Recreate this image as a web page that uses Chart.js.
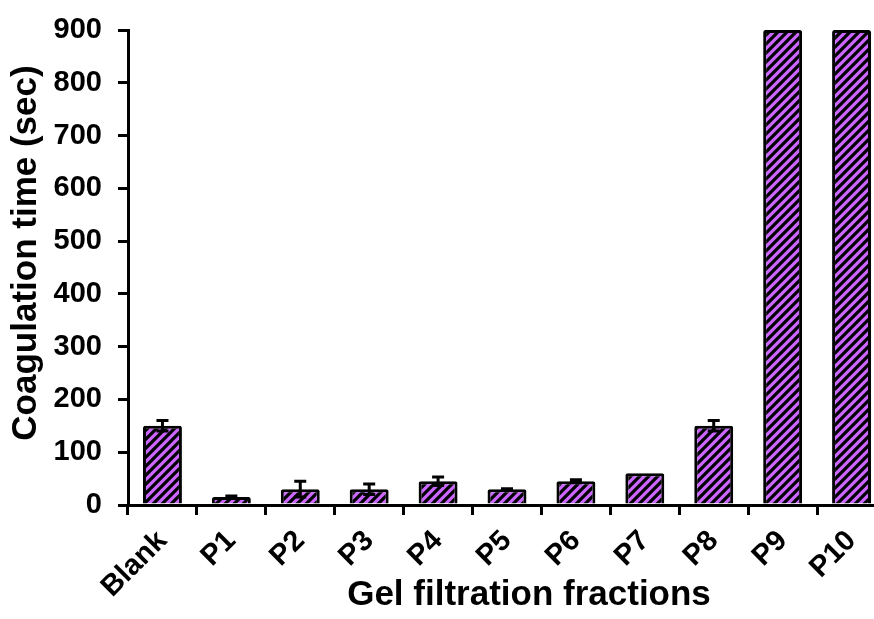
<!DOCTYPE html>
<html>
<head>
<meta charset="utf-8">
<script src="https://cdn.jsdelivr.net/npm/chart.js@4.4.0/dist/chart.umd.min.js"></script>
<style>
  html, body { margin: 0; padding: 0; background: #fff; overflow: hidden; }
  #wrap { width: 886px; height: 619px; }
</style>
</head>
<body>
<div id="wrap"><canvas id="myChart" width="886" height="619"></canvas></div>
<script>
// Temps de coagulation par fraction de filtration sur gel
var fractions = ['Blank', 'P1', 'P2', 'P3', 'P4', 'P5', 'P6', 'P7', 'P8', 'P9', 'P10'];
var temps = [150, 15, 30, 30, 45, 30, 45, 60, 150, 900, 900];
var ecarts = [10, 2, 15, 10, 8, 1, 3, 0, 10, 0, 0];
var yTicks = [0, 100, 200, 300, 400, 500, 600, 700, 800, 900];

var titreY = 'Coagulation time (sec)';
var titreX = 'Gel filtration fractions';

var police = '"Liberation Sans", Arial, sans-serif';

// Motif hachuré violet / noir (lignes x + y = k)
function makeHatch() {
    var n = 9;
    var c = document.createElement('canvas');
    c.width = n;
    c.height = n;
    var g = c.getContext('2d');
    g.fillStyle = '#cc66ff';
    g.fillRect(0, 0, n, n);
    g.strokeStyle = '#000000';
    g.lineWidth = 3.2;
    g.beginPath();
    [0, n, 2 * n].forEach(function(k) {
        g.moveTo(-2, k + 2);
        g.lineTo(k + 2, -2);
    });
    g.stroke();
    return g.createPattern(c, 'repeat');
}

var ctx = document.getElementById('myChart').getContext('2d');

// Barres d'erreur dessinées avec l'échelle y
var errorBars = {
    id: 'errorBars',
    afterDatasetsDraw: function(chart) {
        var meta = chart.getDatasetMeta(0);
        var y = chart.scales.y;
        var c = chart.ctx;
        c.save();
        c.strokeStyle = '#000';
        c.lineWidth = 3;
        meta.data.forEach(function(bar, i) {
            var e = ecarts[i];
            if (!e) return;
            var top = y.getPixelForValue(temps[i] + e);
            var bot = y.getPixelForValue(temps[i] - e);
            c.beginPath();
            c.moveTo(bar.x, top); c.lineTo(bar.x, bot);
            c.moveTo(bar.x - 6, top); c.lineTo(bar.x + 6, top);
            c.moveTo(bar.x - 6, bot); c.lineTo(bar.x + 6, bot);
            c.stroke();
        });
        c.restore();
    }
};

// Titres des axes
var axisTitles = {
    id: 'axisTitles',
    afterDraw: function(chart) {
        var c = chart.ctx;
        c.save();
        c.fillStyle = '#000';
        c.font = 'bold 35px ' + police;
        c.textAlign = 'center';
        c.textBaseline = 'middle';
        c.fillText(titreX, 529, 595);
        c.translate(26, 253);
        c.rotate(-Math.PI / 2);
        c.fillText(titreY, 0, 0);
        c.restore();
    }
};

var myChart = new Chart(ctx, {
    type: 'bar',
    data: {
        labels: fractions,
        datasets: [{
            data: temps,
            backgroundColor: makeHatch(),
            borderColor: '#000000',
            borderWidth: 3,
            borderRadius: 2,
            borderSkipped: 'start',
            barPercentage: 0.565,
            categoryPercentage: 1
        }]
    },
    options: {
        responsive: false,
        animation: false,
        layout: { padding: { top: 30, right: 0, left: 0, bottom: 0 } },
        plugins: {
            legend: { display: false },
            tooltip: { enabled: false }
        },
        scales: {
            x: {
                afterFit: function(s) { s.height = 114; },
                grid: {
                    offset: true,
                    drawOnChartArea: false,
                    drawTicks: true,
                    tickLength: 10,
                    lineWidth: 3,
                    color: '#000'
                },
                border: { display: true, color: '#000', width: 3 },
                ticks: {
                    color: '#000',
                    minRotation: 45,
                    maxRotation: 45,
                    padding: 9,
                    font: { family: police, size: 29, weight: 'bold' }
                }
            },
            y: {
                min: 0,
                max: 900,
                afterFit: function(s) {
                    s.width = 128;
                    s.paddingTop = 0;
                    s.paddingBottom = 0;
                },
                afterBuildTicks: function(s) {
                    s.ticks = yTicks.map(function(v) { return { value: v }; });
                },
                grid: {
                    drawOnChartArea: false,
                    drawTicks: true,
                    tickLength: 10,
                    lineWidth: 3,
                    color: '#000'
                },
                border: { display: true, color: '#000', width: 3 },
                ticks: {
                    color: '#000',
                    padding: 16,
                    font: { family: police, size: 29, weight: 'bold' }
                }
            }
        }
    },
    plugins: [errorBars, axisTitles]
});
</script>
</body>
</html>
